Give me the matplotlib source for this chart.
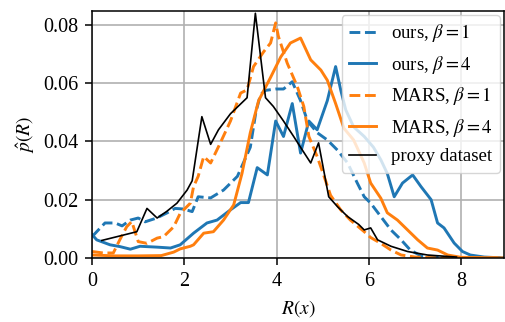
import matplotlib
matplotlib.use('Agg')
import matplotlib.pyplot as plt

plt.rcParams['font.family'] = ['Liberation Serif', 'DejaVu Serif']
plt.rcParams['mathtext.fontset'] = 'stix'
plt.rcParams['font.size'] = 14

# ours, beta=1
ours1_x = [0, 0.1, 0.28, 0.5, 0.65, 0.83, 1.0, 1.15, 1.4, 1.63, 1.8, 1.98, 2.17, 2.3, 2.57,
           2.85, 3.15, 3.43, 3.55, 3.65, 3.75, 3.98, 4.15, 4.34, 4.52, 4.67, 4.88, 5.1, 5.32,
           5.54, 5.75, 5.9, 6.04, 6.26, 6.48, 6.7, 6.9, 7.13, 7.4, 8.0, 8.9]
ours1_y = [.0073, .009, .012, .012, .011, .013, .0137, .0124, .0137, .0155, .017, .0168, .0159,
           .021, .0206, .0233, .028, .038, .050, .056, .0575, .058, .058, .0605, .054, .047,
           .043, .0405, .037, .0326, .0257, .021, .0188, .0142, .0096, .0062, .0027, .0007,
           .0002, 0, 0]

# ours, beta=4
ours4_x = [0, 0.1, 0.39, 0.6, 0.83, 1.04, 1.41, 1.7, 1.91, 2.2, 2.49, 2.71, 3.0, 3.22, 3.39,
           3.58, 3.8, 3.98, 4.15, 4.34, 4.52, 4.7, 4.88, 5.1, 5.28, 5.39, 5.5, 5.67, 5.9, 6.1,
           6.26, 6.4, 6.55, 6.73, 6.95, 7.13, 7.35, 7.49, 7.63, 7.85, 8.03, 8.2, 8.5, 8.9]
ours4_y = [.008, .0062, .0045, .0039, .003, .004, .0037, .0034, .0045, .0085, .012, .013, .0165,
           .019, .019, .031, .0285, .047, .0417, .053, .036, .047, .044, .054, .0657, .0577,
           .0508, .045, .0417, .038, .0337, .029, .021, .0257, .0285, .0245, .02, .012, .0103,
           .0051, .0022, .001, .0003, 0]

# MARS, beta=1
mars1_x = [0, 0.24, 0.46, 0.6, 0.75, 0.86, 1.0, 1.19, 1.41, 1.55, 1.77, 1.91, 2.13, 2.2, 2.3,
           2.42, 2.57, 2.78, 3.0, 3.22, 3.36, 3.5, 3.72, 3.87, 3.98, 4.04, 4.23, 4.45, 4.59,
           4.7, 4.88, 5.03, 5.17, 5.39, 5.6, 5.9, 6.04, 6.26, 6.48, 6.7, 7.0, 7.5, 8.9]
mars1_y = [.0022, .0017, .0017, .0062, .0107, .0125, .0056, .005, .0068, .0073, .0107, .0153,
           .0188, .0245, .028, .0348, .0326, .0395, .047, .0566, .0577, .0657, .0708, .0738,
           .0807, .076, .0669, .0588, .052, .0417, .0348, .028, .0215, .0165, .013, .009,
           .007, .005, .0027, .001, .0003, 0, 0]

# MARS, beta=4
mars4_x = [0, 0.5, 1.0, 1.5, 1.77, 1.91, 2.13, 2.2, 2.42, 2.63, 2.85, 3.07, 3.25, 3.43, 3.61,
           3.87, 4.09, 4.3, 4.52, 4.74, 4.96, 5.1, 5.28, 5.46, 5.67, 5.9, 6.04, 6.26, 6.4,
           6.62, 6.84, 7.06, 7.27, 7.49, 7.71, 8.0, 8.9]
mars4_y = [.001, .0007, .0007, .0008, .002, .0031, .004, .0045, .0085, .009, .013, .0182, .029,
           .043, .054, .062, .069, .0738, .0755, .068, .0645, .061, .053, .0445, .0405, .0326,
           .0257, .0205, .0155, .013, .0096, .0062, .0034, .0027, .001, .0002, 0]

# proxy dataset
proxy_x = [0.21, 0.54, 0.97, 1.19, 1.41, 1.62, 1.84, 2.06, 2.17, 2.38, 2.57, 2.74, 3.0, 3.36,
           3.54, 3.76, 3.93, 4.15, 4.37, 4.56, 4.74, 4.91, 5.13, 5.32, 5.54, 5.78, 5.9, 6.04,
           6.19, 6.48, 6.84, 7.27, 7.71, 7.9]
proxy_y = [.006, .0073, .009, .017, .0137, .016, .0188, .0233, .0265, .0485, .039, .044, .0495,
           .055, .084, .055, .052, .047, .0417, .037, .0326, .0395, .021, .0176, .0142, .0115,
           .0096, .0103, .0062, .004, .0022, .001, .0005, .0003]

fig, ax = plt.subplots(figsize=(5.06, 3.22), dpi=100)
fig.subplots_adjust(left=0.182, right=0.996, bottom=0.199, top=0.966)

ax.plot(ours1_x, ours1_y, '--', color='#1f77b4', lw=2.1, label=r'ours, $\beta=1$')
ax.plot(ours4_x, ours4_y, '-', color='#1f77b4', lw=2.1, label=r'ours, $\beta=4$')
ax.plot(mars1_x, mars1_y, '--', color='#ff7f0e', lw=2.1, label=r'MARS, $\beta=1$')
ax.plot(mars4_x, mars4_y, '-', color='#ff7f0e', lw=2.1, label=r'MARS, $\beta=4$')
ax.plot(proxy_x, proxy_y, '-', color='black', lw=1.2, label='proxy dataset')

ax.set_xlim(0, 8.93)
ax.set_ylim(0, 0.0848)
ax.set_xticks([0, 2, 4, 6, 8])
ax.set_yticks([0, 0.02, 0.04, 0.06, 0.08])
ax.set_yticklabels(['0.00', '0.02', '0.04', '0.06', '0.08'])
ax.tick_params(length=5, width=1.1, pad=5, labelsize=14.5)
for s in ax.spines.values():
    s.set_linewidth(1.1)
ax.grid(True, color='#b0b0b0', lw=1.2)
ax.set_axisbelow(True)
ax.set_xlabel(r'$R(x)$', labelpad=5)
ax.set_ylabel(r'$\hat{p}(R)$')
ax.legend(loc='upper right', fontsize=13.6, handlelength=1.4, handletextpad=0.8,
          borderaxespad=0.2)

fig.savefig('out.png', dpi=100)
plt.close(fig)
